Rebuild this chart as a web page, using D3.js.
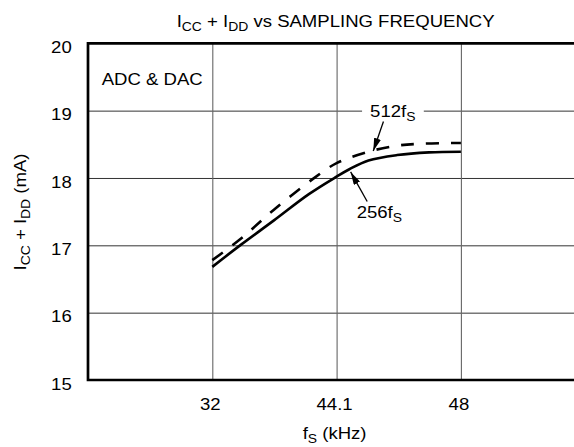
<!DOCTYPE html>
<html>
<head>
<meta charset="utf-8">
<script src="https://cdn.jsdelivr.net/npm/d3@7"></script>
<style>
  html, body { margin: 0; padding: 0; background: #fff; }
  svg { display: block; }
</style>
</head>
<body>
<div id="chart"></div>
<script>
// x ticks (kHz) - drawn equally spaced on the original sheet
const freqTicks = [32, 44.1, 48];
const currentTicks = [15, 16, 17, 18, 19, 20];

// 256fs curve (solid)
const f256 = [32, 34.8, 38.0, 41.4, 44.1, 44.5, 45.1, 46.0, 47.0, 48];
const i256 = [16.68, 17.01, 17.37, 17.76, 18.02, 18.13, 18.26, 18.34, 18.38, 18.39];

// 512fs curve (dashed)
const f512 = [32, 34.8, 38.0, 42.1, 44.1, 45.1, 46.0, 46.8, 48];
const i512 = [16.78, 17.10, 17.53, 18.02, 18.22, 18.39, 18.48, 18.51, 18.52];

// curve call-outs, in chart units
const notes = [
    { label: "512f", sub: "S", at: [45.15, 18.91], tail: [45.57, 18.84], tip: [45.25, 18.40], bg: true },
    { label: "256f", sub: "S", at: [44.73, 17.41], tail: [45.06, 17.65], tip: [44.54, 18.09], bg: false }
];

const width = 574, height = 447;
const FONT = "'Liberation Sans', Arial, Helvetica, sans-serif";
const SX = 1.16; // glyphs on the sheet are a bit wider than Arial

// Layout
const plotLeft = 88, plotTop = 43.3, plotBottom = 380, step = 124.3;
const plotRight = plotLeft + 4 * step; // runs past the window edge

const x = d3.scaleLinear()
    .domain(freqTicks)
    .range([plotLeft + step, plotLeft + 2 * step, plotLeft + 3 * step]);

const y = d3.scaleLinear()
    .domain([15, 20])
    .range([plotBottom, plotTop]);

const svg = d3.select('#chart').append('svg')
    .attr('width', width)
    .attr('height', height);

// text with subscript parts, stretched a little horizontally
function richText(g, px, py, parts, anchor, rot) {
    const t = g.append("text")
        .attr("transform", `translate(${px},${py}) rotate(${rot || 0}) scale(${SX},1)`)
        .attr("text-anchor", anchor)
        .attr("font-family", FONT)
        .attr("font-size", 16)
        .attr("fill", "#000");
    let shifted = false;
    parts.forEach(p => {
        const isSub = Array.isArray(p);
        const s = t.append("tspan").text(isSub ? p[0] : p);
        if (isSub) {
            s.attr("font-size", 12).attr("dy", shifted ? 0 : 4);
            shifted = true;
        } else {
            s.attr("dy", shifted ? -4 : 0);
            shifted = false;
        }
    });
    return t;
}

// Grid
const hGrid = svg.append("g")
    .attr("transform", `translate(${plotLeft},0)`)
    .call(d3.axisLeft(y).tickValues([16, 17, 18, 19]).tickSize(-(plotRight - plotLeft)).tickFormat(""));
hGrid.select(".domain").remove();
hGrid.selectAll("line").attr("stroke", "#333").attr("stroke-width", 1);

const vGrid = svg.append("g")
    .attr("transform", `translate(0,${plotBottom})`)
    .call(d3.axisBottom(x).tickValues(freqTicks).tickSize(-(plotBottom - plotTop)).tickFormat(""));
vGrid.select(".domain").remove();
vGrid.selectAll("line").attr("stroke", "#666").attr("stroke-width", 1.1);

// Frame (top, left, bottom)
svg.append("path")
    .attr("d", `M${plotRight},${plotTop}H${plotLeft}V${plotBottom}H${plotRight}`)
    .attr("fill", "none")
    .attr("stroke", "#000")
    .attr("stroke-width", 2.7);

// Tick labels
const yAxis = svg.append("g")
    .attr("transform", `translate(${plotLeft},0)`)
    .call(d3.axisLeft(y).tickValues(currentTicks).tickSize(0).tickFormat(d3.format("d")));
yAxis.select(".domain").remove();
yAxis.attr("font-family", FONT).attr("font-size", 16);
yAxis.selectAll("text")
    .attr("x", null).attr("dy", null)
    .attr("fill", "#000")
    .attr("transform", `translate(-16.3,9.3) scale(${SX},1)`);

const xAxis = svg.append("g")
    .attr("transform", `translate(0,${plotBottom})`)
    .call(d3.axisBottom(x).tickValues(freqTicks).tickSize(0).tickFormat(d => String(d)));
xAxis.select(".domain").remove();
xAxis.attr("font-family", FONT).attr("font-size", 16);
xAxis.selectAll("text")
    .attr("y", null).attr("dy", null)
    .attr("fill", "#000")
    .attr("transform", `translate(-2.5,30) scale(${SX},1)`);

// Titles
richText(svg, x(44.1) - 1, 26.7, ["I", ["CC"], " + I", ["DD"], " vs SAMPLING FREQUENCY"], "middle");
richText(svg, x(44.1) - 2, 439, ["f", ["S"], " (kHz)"], "middle");
richText(svg, 26, 212, ["I", ["CC"], " + I", ["DD"], " (mA)"], "middle", -90);
richText(svg, plotLeft + 13.7, 85, ["ADC & DAC"], "start");

// Curves
const line = d3.line()
    .x(d => x(d[0]))
    .y(d => y(d[1]))
    .curve(d3.curveCatmullRom.alpha(0.5));

svg.append("path")
    .datum(d3.zip(f512, i512))
    .attr("d", line)
    .attr("fill", "none")
    .attr("stroke", "#000")
    .attr("stroke-width", 2.6)
    .attr("stroke-dasharray", "13,12");

svg.append("path")
    .datum(d3.zip(f256, i256))
    .attr("d", line)
    .attr("fill", "none")
    .attr("stroke", "#000")
    .attr("stroke-width", 2.6);

// Arrow head
svg.append("defs").append("marker")
    .attr("id", "head")
    .attr("markerUnits", "userSpaceOnUse")
    .attr("viewBox", "0 0 13 7")
    .attr("refX", 13).attr("refY", 3.5)
    .attr("markerWidth", 13).attr("markerHeight", 7)
    .attr("orient", "auto")
    .append("path")
    .attr("d", "M0,0L13,3.5L0,7Z")
    .attr("fill", "#000");

notes.forEach(n => {
    const g = svg.append("g");
    const t = richText(g, x(n.at[0]), y(n.at[1]), [n.label, [n.sub]], "start");
    if (n.bg) {
        const b = t.node().getBBox();
        g.insert("rect", "text")
            .attr("x", x(n.at[0]) - 8)
            .attr("y", y(n.at[1]) - 16)
            .attr("width", b.width * SX + 16)
            .attr("height", 21)
            .attr("fill", "#fff");
    }
    svg.append("line")
        .attr("x1", x(n.tail[0])).attr("y1", y(n.tail[1]))
        .attr("x2", x(n.tip[0])).attr("y2", y(n.tip[1]))
        .attr("stroke", "#000")
        .attr("stroke-width", 1.3)
        .attr("marker-end", "url(#head)");
});
</script>
</body>
</html>
